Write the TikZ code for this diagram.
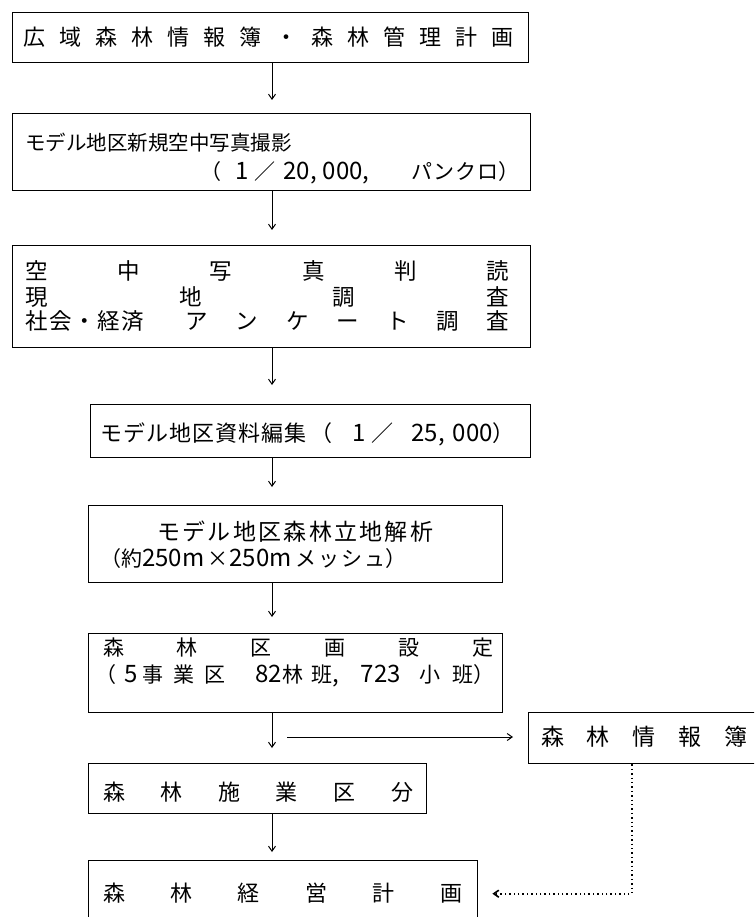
\documentclass[tikz,border=0pt]{standalone}
\usepackage{fontspec}
\setmainfont{Noto Sans CJK JP}
\usetikzlibrary{arrows.meta}
\newcommand\myfz[1]{\fontsize{#1pt}{#1pt}\selectfont}
\newcommand\lat[1]{{\myfz{24}#1}}
\begin{document}
\begin{tikzpicture}[x=1pt,y=-1pt,
  box/.style={draw, line width=1.4pt, inner sep=0pt, anchor=north west},
  txt/.style={inner sep=0pt, anchor=base west},
  arr/.style={line width=1pt, -{Straight Barb[length=5pt,width=7pt]}},
  dotline/.style={line width=1.6pt, dash pattern=on 1.4pt off 3pt, -{Straight Barb[length=5pt,width=7pt]}}
]
\useasboundingbox (0,0) rectangle (754,917);
\fill[white] (0,0) rectangle (754,917);
\begin{scope}
\clip (0,0) rectangle (754,917);
% boxes
\node[box, minimum width=516pt, minimum height=50pt] (b1) at (12,12) {};
\node[box, minimum width=518pt, minimum height=77pt] (b2) at (12,113) {};
\node[box, minimum width=518pt, minimum height=102pt] (b3) at (12,245) {};
\node[box, minimum width=440pt, minimum height=53pt] (b4) at (90,404) {};
\node[box, minimum width=414pt, minimum height=77pt] (b5) at (88,505) {};
\node[box, minimum width=414pt, minimum height=79pt] (b6) at (88,633) {};
\node[box, minimum width=250pt, minimum height=51pt] (b7) at (528,712) {};
\node[box, minimum width=338pt, minimum height=50pt] (b8) at (88,763) {};
\node[box, minimum width=389pt, minimum height=66pt] (b9) at (88,860) {};

% texts
\node[txt, font=\myfz{22}] (t1) at (23,45.4) {\makebox[490pt][s]{広\hfill 域\hfill 森\hfill 林\hfill 情\hfill 報\hfill 簿\hfill ・\hfill 森\hfill 林\hfill 管\hfill 理\hfill 計\hfill 画}};

\node[txt, font=\myfz{20.5}] (t2a) at (25,150.8) {モデル地区新規空中写真撮影};
\node[txt, font=\myfz{21}] (t2b) at (200,180) {（\hspace{14pt}\lat{1}\hspace{6pt}／\hspace{8pt}\lat{20,}\hspace{6pt}\lat{000,}\hspace{42pt}パ\hspace{1pt}ン\hspace{1pt}ク\hspace{1pt}ロ）};

\node[txt, font=\myfz{22.5}] (t3a) at (25,279.5) {\makebox[484pt][s]{空\hfill 中\hfill 写\hfill 真\hfill 判\hfill 読}};
\node[txt, font=\myfz{22.5}] (t3b) at (25,305) {\makebox[484pt][s]{現\hfill 地\hfill 調\hfill 査}};
\node[txt, font=\myfz{22.5}] (t3c) at (25,329.5) {\makebox[484pt][s]{社\hspace{1.5pt}会\hspace{1.5pt}・\hspace{1.5pt}経\hspace{1.5pt}済\hspace{42pt}ア\hfill ン\hfill ケ\hfill ー\hfill ト\hfill 調\hfill 査}};

\node[txt, font=\myfz{22}] (t4) at (100,441.4) {モ\hspace{1pt}デ\hspace{1pt}ル\hspace{1pt}地\hspace{1pt}区\hspace{1pt}資\hspace{1pt}料\hspace{1pt}編\hspace{1pt}集\hspace{4pt}（\hspace{20pt}\lat{1}\hspace{6pt}／\hspace{18pt}\lat{25,}\hspace{8pt}\lat{000}）};

\node[txt, font=\myfz{23}] (t5a) at (157,540.7) {\makebox[276pt][s]{モ\hfil デ\hfil ル\hfil 地\hfil 区\hfil 森\hfil 林\hfil 立\hfil 地\hfil 解\hfil 析}};
\node[txt, font=\myfz{21}] (t5b) at (100,566) {（約\lat{250m}\hspace{3pt}×\hspace{1pt}\lat{250m}\hspace{4pt}メ\hspace{2pt}ッ\hspace{2pt}シ\hspace{2pt}ュ）};

\node[txt, font=\myfz{21}] (t6a) at (103,655.5) {\makebox[390pt][s]{森\hfill 林\hfill 区\hfill 画\hfill 設\hfill 定}};
\node[txt, font=\myfz{21}] (t6b) at (95,682) {（\hspace{8pt}\lat{5}\hspace{5pt}事\hspace{10pt}業\hspace{10pt}区\hspace{30pt}\lat{82}林\hspace{8pt}班\lat{,}\hspace{22pt}\lat{723}\hspace{19pt}小\hspace{12pt}班）};

\node[txt, font=\myfz{23}] (t7) at (541,745.7) {\makebox[206pt][s]{森\hfill 林\hfill 情\hfill 報\hfill 簿}};
\node[txt, font=\myfz{22}] (t8) at (103,800.4) {\makebox[310pt][s]{森\hfill 林\hfill 施\hfill 業\hfill 区\hfill 分}};
\node[txt, font=\myfz{22}] (t9) at (103,901.4) {\makebox[359pt][s]{森\hfill 林\hfill 経\hfill 営\hfill 計\hfill 画}};

% connectors
\coordinate (ax) at (272,0);
\draw[arr, shorten >=13pt] (b1.south -| ax) -- (b2.north -| ax);
\draw[arr, shorten >=15pt] (b2.south -| ax) -- (b3.north -| ax);
\draw[arr, shorten >=19pt] (b3.south -| ax) -- (b4.north -| ax);
\draw[arr, shorten >=18pt] (b4.south -| ax) -- (b5.north -| ax);
\draw[arr, shorten >=16pt] (b5.south -| ax) -- (b6.north -| ax);
\draw[arr, shorten >=15pt] (b6.south -| ax) -- (b8.north -| ax);
\draw[arr, shorten >=8pt] (b8.south -| ax) -- (b9.north -| ax);
\coordinate (hs) at (287,737);
\draw[arr, shorten >=15pt] (hs) -- (b7.west |- hs);
\coordinate (dx) at (632,0);
\draw[dotline, shorten >=14pt] (b7.south -| dx) |- (b9.east);
\end{scope}
\end{tikzpicture}
\end{document}
